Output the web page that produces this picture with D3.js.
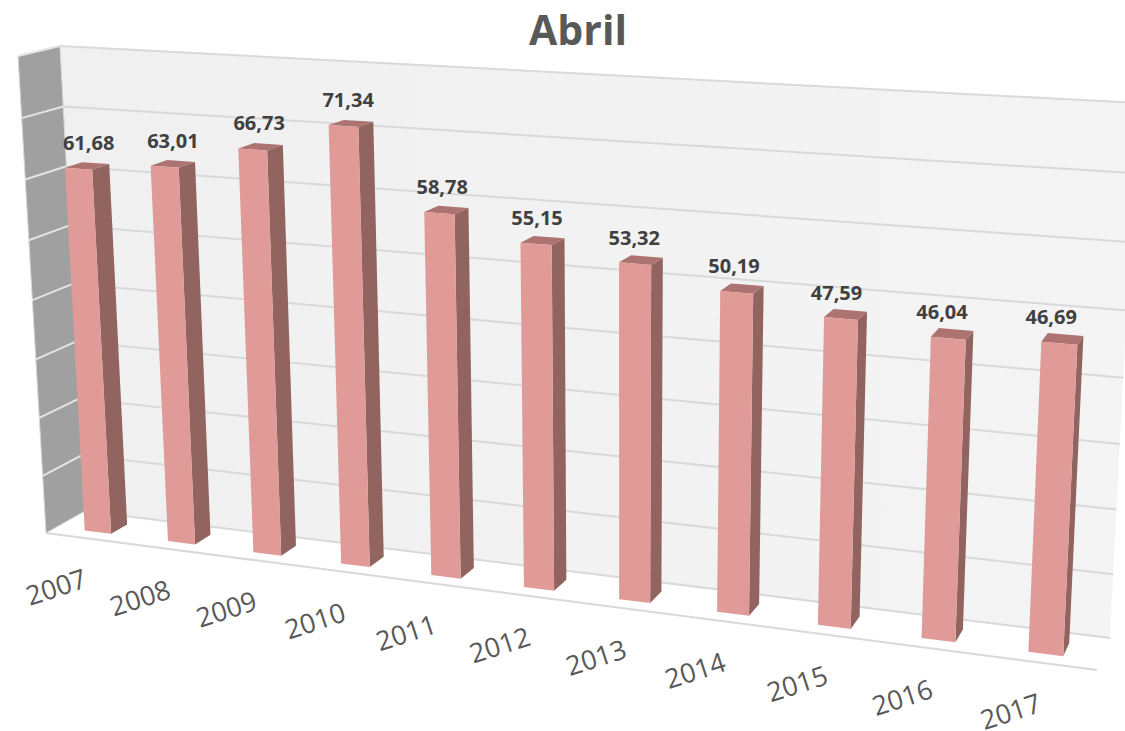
<!DOCTYPE html>
<html lang="en">

<head>
    <meta charset="UTF-8">
    <title>Abril</title>
    <style>
        body { margin: 0; background: #fff; }
        svg { display: block; }
        text { font-family: "Open Sans", sans-serif; }
    </style>
</head>

<body>
    <script src="https://d3js.org/d3.v7.min.js"></script>
    <svg id="chart"></svg>

    <script>
        // Data
        const years = ["2007", "2008", "2009", "2010", "2011", "2012", "2013", "2014", "2015", "2016", "2017"];
        const values = [61.68, 63.01, 66.73, 71.34, 58.78, 55.15, 53.32, 50.19, 47.59, 46.04, 46.69];
        const valueLabels = ["61,68", "63,01", "66,73", "71,34", "58,78", "55,15", "53,32", "50,19", "47,59", "46,04", "46,69"];

        const width = 1125, height = 731;

        const svg = d3.select("#chart")
            .attr("width", width)
            .attr("height", height);

        // Scales work in chart space: u along the years, v up the axis, w into the depth
        const x = d3.scaleBand().domain(years).range([0, 1]).paddingInner(0.68).paddingOuter(0.34);
        const y = d3.scaleLinear().domain([0, 80]).range([0, 1]);
        const barFront = 0.28, barBack = 0.70;

        // Homography from the unit square to a screen quad, corners are (0,0) (1,0) (1,1) (0,1)
        const quadMap = ([p0, p1, p2, p3]) => {
            const dx1 = p1[0] - p2[0], dx2 = p3[0] - p2[0], sx = p0[0] - p1[0] + p2[0] - p3[0];
            const dy1 = p1[1] - p2[1], dy2 = p3[1] - p2[1], sy = p0[1] - p1[1] + p2[1] - p3[1];
            const den = dx1 * dy2 - dx2 * dy1;
            const g = (sx * dy2 - dx2 * sy) / den, h = (dx1 * sy - sx * dy1) / den;
            const a = p1[0] - p0[0] + g * p1[0], b = p3[0] - p0[0] + h * p3[0];
            const d = p1[1] - p0[1] + g * p1[1], e = p3[1] - p0[1] + h * p3[1];
            return (u, v) => {
                const k = g * u + h * v + 1;
                return [(a * u + b * v + p0[0]) / k, (d * u + e * v + p0[1]) / k];
            };
        };

        // Frame of the 3D box as it lands on screen, the top right runs past the page edge
        const backPlane = quadMap([[85, 511], [1110, 638], [1137, 103], [60, 46]]);
        const frontPlane = quadMap([[46, 533], [1097, 670], [1124, 116], [18, 56]]);

        const project = (u, v, w) => {
            const f = frontPlane(u, v), b = backPlane(u, v);
            return [f[0] + (b[0] - f[0]) * w, f[1] + (b[1] - f[1]) * w];
        };

        const line = d3.line();
        const poly = pts => line(pts) + "Z";

        const defs = svg.append("defs");
        const wallGradient = defs.append("linearGradient").attr("id", "wall-gradient");
        wallGradient.append("stop").attr("offset", "0%").attr("stop-color", "#f0f0f0");
        wallGradient.append("stop").attr("offset", "100%").attr("stop-color", "#f4f4f4");

        // Walls
        svg.append("path")
            .attr("d", poly([project(0, 0, 1), project(1, 0, 1), project(1, 1, 1), project(0, 1, 1)]))
            .attr("fill", "url(#wall-gradient)");

        svg.append("path")
            .attr("d", poly([project(0, 0, 0), project(0, 0, 1), project(0, 1, 1), project(0, 1, 0)]))
            .attr("fill", "#a0a0a0")
            .attr("stroke", "#d9d9d9")
            .attr("stroke-width", 1);

        // Gridlines on the back wall and the left wall
        const ticks = y.ticks(8);
        ticks.forEach(t => {
            svg.append("path")
                .attr("d", line([project(0, y(t), 1), project(1, y(t), 1)]))
                .attr("stroke", "#d9d9d9")
                .attr("stroke-width", 2)
                .attr("fill", "none");
            if (t > 0) {
                svg.append("path")
                    .attr("d", line([project(0, y(t), 0), project(0, y(t), 1)]))
                    .attr("stroke", "#e4e4e4")
                    .attr("stroke-width", 2)
                    .attr("fill", "none");
            }
        });

        // Front edge of the floor
        svg.append("path")
            .attr("d", line([project(0, 0, 0), project(1, 0, 0)]))
            .attr("stroke", "#d9d9d9")
            .attr("stroke-width", 2)
            .attr("fill", "none");

        // Bars
        const bars = svg.selectAll(".bar")
            .data(years.map((year, i) => ({ year, value: values[i], label: valueLabels[i] })))
            .enter()
            .append("g")
            .attr("class", "bar");

        bars.each(function (d) {
            const bar = d3.select(this);
            const u0 = x(d.year), u1 = u0 + x.bandwidth(), v = y(d.value);

            bar.append("path")
                .attr("fill", "#916460")
                .attr("d", poly([project(u1, 0, barFront), project(u1, 0, barBack), project(u1, v, barBack), project(u1, v, barFront)]));
            bar.append("path")
                .attr("fill", "#ac7370")
                .attr("d", poly([project(u0, v, barFront), project(u1, v, barFront), project(u1, v, barBack), project(u0, v, barBack)]));
            bar.append("path")
                .attr("fill", "#e09a97")
                .attr("d", poly([project(u0, 0, barFront), project(u1, 0, barFront), project(u1, v, barFront), project(u0, v, barFront)]));
        });

        // Value labels, they drift left of the bar top going to the right
        bars.append("text")
            .attr("text-anchor", "middle")
            .attr("font-size", 20)
            .attr("font-weight", 700)
            .attr("fill", "#404040")
            .attr("x", d => {
                const u = x(d.year) + x.bandwidth() / 2;
                return project(u, y(d.value), barFront)[0] + 11 - 20 * u;
            })
            .attr("y", d => project(x(d.year) + x.bandwidth() / 2, y(d.value), barFront)[1] - 19)
            .text(d => d.label);

        // Year labels
        svg.selectAll(".year")
            .data(years)
            .enter()
            .append("text")
            .attr("class", "year")
            .attr("text-anchor", "middle")
            .attr("font-size", 27)
            .attr("fill", "#595959")
            .attr("transform", d => {
                const p = project(x(d) + x.bandwidth() / 2, 0, 0);
                return "translate(" + (p[0] - 28) + "," + (p[1] + 58) + ") rotate(-18)";
            })
            .text(d => d);

        // Title
        svg.append("text")
            .attr("x", 578)
            .attr("y", 45)
            .attr("text-anchor", "middle")
            .attr("font-size", 41)
            .attr("font-weight", 700)
            .attr("fill", "#595959")
            .text("Abril");
    </script>
</body>

</html>
